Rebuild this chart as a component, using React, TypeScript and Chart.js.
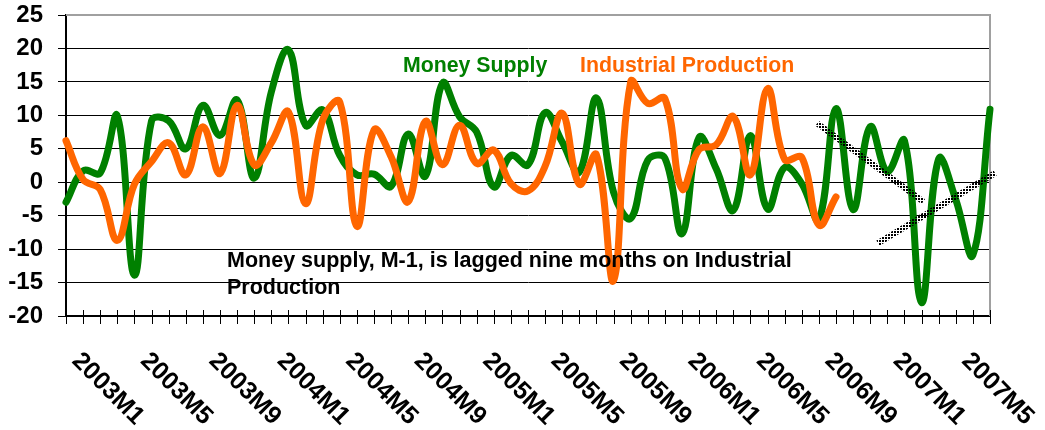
import React, { useEffect, useRef } from 'react';
import { Chart, registerables } from 'chart.js';

Chart.register(...registerables);

// Monthly categories 2003M1 .. 2007M7
const months: string[] = [];
for (let yr = 2003; yr <= 2007; yr++) {
  for (let m = 1; m <= 12; m++) {
    if (yr === 2007 && m > 7) break;
    months.push(`${yr}M${m}`);
  }
}
const labelEvery = 4;

// Money supply M-1 (lagged nine months), % change
const moneySupply = [
  -3, 1.7, 1.4, 9.9, -13.9, 9.2, 9.2, 5.0, 11.5, 7.0,
  12.3, 0.6, 13.5, 19.8, 8.5, 10.8, 4.0, 1.1, 1.2, -0.6,
  7.2, 0.9, 14.8, 9.8, 7.5, -0.7, 4.0, 2.6, 10.4, 6.0,
  1.5, 12.6, -1.5, -5.4, 3.3, 3.6, -7.7, 6.7, 2.0, -4.2,
  7.0, -4.0, 2.2, -0.2, -5.6, 11.0, -4.1, 8.3, 1.6, 6.2,
  -18.0, 3.5, -2.6, -10.9, 10.9,
];

// Industrial production, % change
const industrialProduction = [
  6.2, 0.4, -1.1, -8.7, -0.3, 3.1, 5.9, 1.1, 8.3, 1.3,
  11.5, 2.6, 5.9, 10.5, -3.2, 9.3, 12.0, -6.6, 7.8, 3.8,
  -2.9, 9.1, 2.6, 8.5, 2.8, 4.8, -0.2, -1.3, 2.4, 10.3,
  -0.3, 4.1, -14.7, 15.0, 11.8, 12.5, -1.0, 4.9, 5.6, 9.8,
  1.1, 14.0, 3.4, 3.7, -6.4, -2.2,
];

// Hand-drawn dotted trend lines (x = month index, y = value)
const trendDown = [
  { x: 43.9, y: 8.8 },
  { x: 50.1, y: -2.9 },
];
const trendUp = [
  { x: 47.45, y: -9.1 },
  { x: 54.3, y: 1.35 },
];

const yMin = -20;
const yMax = 25;
const yStep = 5;

const FONT = '"Liberation Sans", Arial, Helvetica, sans-serif';

const decorPlugin = {
  id: 'decor',
  beforeDatasetsDraw(chart: any) {
    const { ctx, chartArea } = chart;
    const x = chart.scales.x;
    ctx.save();
    // top & right plot border (grey)
    ctx.strokeStyle = '#a0a0a0';
    ctx.lineWidth = 2;
    ctx.beginPath();
    ctx.moveTo(chartArea.left, chartArea.top);
    ctx.lineTo(chartArea.right, chartArea.top);
    ctx.lineTo(chartArea.right, chartArea.bottom);
    ctx.stroke();
    // crossing tick marks on the category axis
    ctx.strokeStyle = '#000';
    ctx.lineWidth = 1;
    for (let i = 0; i < months.length; i++) {
      const px = Math.round(x.getPixelForValue(i)) + 0.5;
      ctx.beginPath();
      ctx.moveTo(px, chartArea.bottom - 6);
      ctx.lineTo(px, chartArea.bottom + 8);
      ctx.stroke();
    }
    ctx.restore();
  },
  afterDraw(chart: any) {
    const { ctx } = chart;
    const x = chart.scales.x;
    ctx.save();
    // rotated category labels
    ctx.font = `bold 25px ${FONT}`;
    ctx.fillStyle = '#000';
    ctx.textAlign = 'left';
    ctx.textBaseline = 'alphabetic';
    months.forEach((m, i) => {
      if (i % labelEvery !== 0) return;
      const px = x.getPixelForValue(i);
      ctx.save();
      ctx.translate(px + 5, 362);
      ctx.rotate(Math.PI / 4);
      ctx.fillText(m, 0, 0);
      ctx.restore();
    });
    // series labels
    ctx.font = `bold 21.3px ${FONT}`;
    ctx.fillStyle = '#008000';
    ctx.fillText('Money Supply', 403, 72);
    ctx.fillStyle = '#FF6600';
    ctx.fillText('Industrial Production', 580, 72);
    // note
    ctx.font = `bold 21.5px ${FONT}`;
    ctx.fillStyle = '#000';
    ctx.fillText('Money supply, M-1, is lagged nine months on Industrial', 227, 267);
    ctx.fillText('Production', 227, 294);
    ctx.restore();
  },
};

export default function App() {
  const canvasRef = useRef<HTMLCanvasElement | null>(null);

  useEffect(() => {
    const canvas = canvasRef.current;
    if (!canvas) return;

    // dotted pattern for the trend lines
    const tile = document.createElement('canvas');
    tile.width = 3;
    tile.height = 3;
    const tctx = tile.getContext('2d')!;
    tctx.fillStyle = '#000';
    tctx.fillRect(0, 0, 2, 2);
    const ctx0 = canvas.getContext('2d')!;
    const dotted = ctx0.createPattern(tile, 'repeat') || '#000';

    const chart = new Chart(canvas, {
      type: 'line',
      data: {
        datasets: [
          {
            label: 'trend down',
            data: trendDown,
            borderColor: dotted as any,
            borderWidth: 6,
            pointRadius: 0,
            tension: 0,
            clip: false as any,
          },
          {
            label: 'trend up',
            data: trendUp,
            borderColor: dotted as any,
            borderWidth: 6,
            pointRadius: 0,
            tension: 0,
            clip: false as any,
          },
          {
            label: 'Industrial Production',
            data: industrialProduction.map((y, i) => ({ x: i, y })),
            borderColor: '#FF6600',
            borderWidth: 7,
            pointRadius: 0,
            tension: 0.4,
            borderCapStyle: 'round',
            borderJoinStyle: 'round',
            clip: false as any,
          },
          {
            label: 'Money Supply',
            data: moneySupply.map((y, i) => ({ x: i, y })),
            borderColor: '#008000',
            borderWidth: 7,
            pointRadius: 0,
            tension: 0.4,
            borderCapStyle: 'round',
            borderJoinStyle: 'round',
            clip: false as any,
          },
        ],
      },
      options: {
        animation: false,
        responsive: false,
        devicePixelRatio: 1,
        layout: { padding: { top: 15, right: 55, left: 0, bottom: 0 } },
        plugins: {
          legend: { display: false },
          tooltip: { enabled: false },
        },
        scales: {
          x: {
            type: 'linear',
            min: 0,
            max: months.length - 1,
            ticks: { display: false },
            grid: { display: false },
            border: { display: true, color: '#000', width: 2 },
            afterFit(s: any) {
              s.height = 114;
              s.paddingLeft = 0;
              s.paddingRight = 0;
            },
          },
          y: {
            min: yMin,
            max: yMax,
            ticks: {
              stepSize: yStep,
              color: '#000',
              padding: 15,
              font: { family: FONT, size: 24, weight: 'bold' },
            },
            grid: { color: '#000', lineWidth: 1, tickLength: 8 },
            border: { display: true, color: '#000', width: 2 },
            afterFit(s: any) {
              s.width = 66;
              s.paddingTop = 0;
              s.paddingBottom = 0;
            },
          },
        },
      },
      plugins: [decorPlugin],
    });

    return () => chart.destroy();
  }, []);

  return (
    <div style={{ position: 'fixed', left: 0, top: 0, width: 1045, height: 430, background: '#fff' }}>
      <canvas ref={canvasRef} width={1045} height={430} />
    </div>
  );
}
